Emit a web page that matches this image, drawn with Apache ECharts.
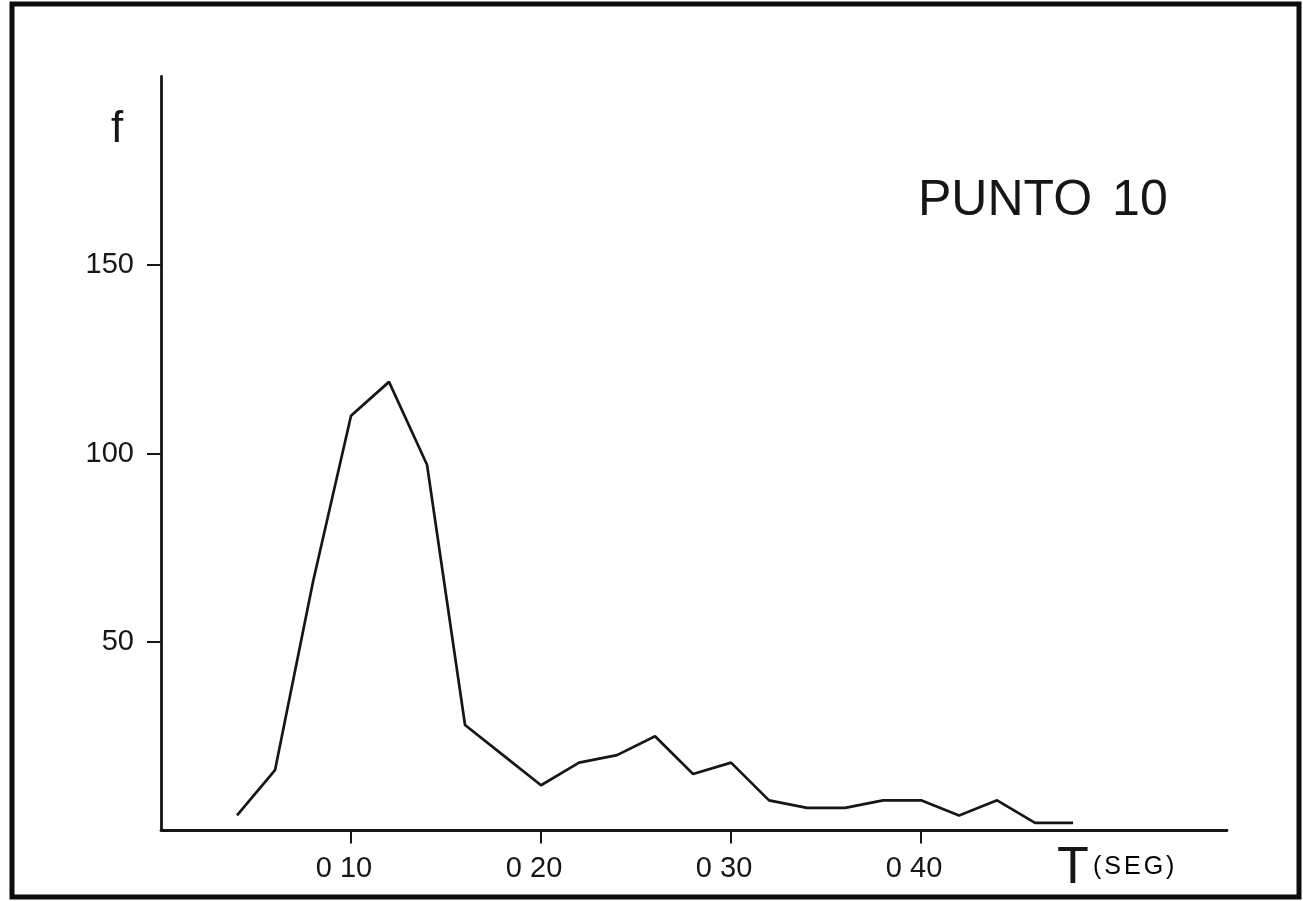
<!DOCTYPE html>
<html>
<head>
<meta charset="utf-8">
<title>PUNTO 10</title>
<script src="https://cdn.jsdelivr.net/npm/echarts@6/dist/echarts.min.js"></script>
<style>
  html, body { margin: 0; padding: 0; background: #ffffff; }
  #chart { width: 1303px; height: 901px; }
</style>
</head>
<body>
<div id="chart"></div>
<script>
// Period classes (seconds) and the frequency counted in each
const periods = [0.04, 0.06, 0.08, 0.10, 0.12, 0.14, 0.16, 0.18, 0.20, 0.22, 0.24, 0.26,
                 0.28, 0.30, 0.32, 0.34, 0.36, 0.38, 0.40, 0.42, 0.44, 0.46, 0.48];
const frequencies = [4, 16, 66, 110, 119, 97, 28, 20, 12, 18, 20, 25,
                     15, 18, 8, 6, 6, 8, 8, 4, 8, 2, 2];

// Axis ticks and their printed labels
const xTicks = [0.10, 0.20, 0.30, 0.40];
const xTickLabels = ['0 10', '0 20', '0 30', '0 40'];
const yTicks = [50, 100, 150];

const titleWord = 'PUNTO';
const titleNumber = '10';
const yName = 'f';
const xName = 'T';
const xUnit = '(SEG)';

const ink = '#161616';
const font = '"Liberation Sans", Arial, sans-serif';

// spread the unit letters apart, as on a lettering stencil
const spaced = s => s.split('').map(ch => '{c|' + ch + '}').join('');

const chart = echarts.init(document.getElementById('chart'), null, { renderer: 'canvas' });

const option = {
  backgroundColor: '#ffffff',
  animation: false,
  grid: { left: 161, right: 76, top: 76.5, bottom: 70.5, containLabel: false },
  xAxis: {
    type: 'value',
    min: 0,
    max: 0.561,
    axisLine: { show: true, lineStyle: { color: ink, width: 2.8 } },
    axisTick: { show: true, customValues: xTicks, length: 13, inside: false,
                lineStyle: { color: ink, width: 2 } },
    axisLabel: {
      customValues: xTicks,
      margin: 24,
      color: ink,
      fontFamily: font,
      fontSize: 29,
      padding: [0, 14, 0, 0],
      formatter: function (v) {
        const i = xTicks.findIndex(t => Math.abs(t - v) < 1e-6);
        return i >= 0 ? xTickLabels[i] : '';
      }
    },
    splitLine: { show: false }
  },
  yAxis: {
    type: 'value',
    min: 0,
    max: 200,
    axisLine: { show: true, lineStyle: { color: ink, width: 2.8 } },
    axisTick: { show: true, customValues: yTicks, length: 14, inside: false,
                lineStyle: { color: ink, width: 2 } },
    axisLabel: {
      customValues: yTicks,
      margin: 27,
      color: ink,
      fontFamily: font,
      fontSize: 29
    },
    splitLine: { show: false }
  },
  series: [{
    type: 'line',
    data: periods.map((p, i) => [p, frequencies[i]]),
    showSymbol: false,
    lineStyle: { color: ink, width: 2.7 },
    z: 3
  }],
  graphic: [
    {
      type: 'rect',
      shape: { x: 12, y: 4, width: 1287, height: 893 },
      style: { fill: 'none', stroke: '#0c0c0c', lineWidth: 5 },
      silent: true
    },
    {
      type: 'text',
      left: 918, top: 176,
      style: {
        text: '{w|' + titleWord + '}{g|}{w|' + titleNumber + '}',
        fill: ink,
        rich: {
          w: { fontFamily: font, fontSize: 50, color: ink },
          g: { width: 20 }
        }
      }
    },
    {
      type: 'text',
      left: 111, top: 108,
      style: { text: yName, fill: ink, font: 'normal 44px ' + font }
    },
    {
      type: 'text',
      left: 1057, top: 843,
      style: { text: xName, fill: ink, font: 'normal 52px ' + font }
    },
    {
      type: 'text',
      left: 1093, top: 855,
      style: {
        text: spaced(xUnit),
        rich: { c: { fontFamily: font, fontSize: 25, color: ink, padding: [0, 1.5] } }
      }
    }
  ]
};

chart.setOption(option);
</script>
</body>
</html>
